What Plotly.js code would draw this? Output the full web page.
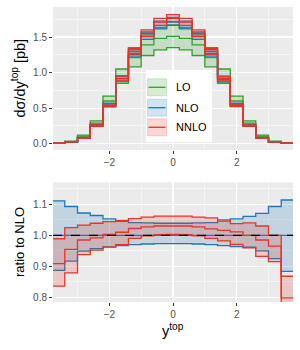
<!DOCTYPE html>
<html>
<head>
<meta charset="utf-8">
<script src="https://cdn.plot.ly/plotly-3.0.1.min.js"></script>
<style>html,body{margin:0;padding:0;background:#fff;}#plot{width:300px;height:350px;}</style>
</head>
<body>
<div id="plot"></div>
<script>
// ---- data (bin centres, width 0.4) ----
const binCenters = [-3.6,-3.2,-2.8,-2.4,-2.0,-1.6,-1.2,-0.8,-0.4,0.0,0.4,0.8,1.2,1.6,2.0,2.4,2.8,3.2,3.6];
const binWidth = 0.4;
// top panel: dsigma/dy [pb]
const loLow  = [0.009,0.027,0.094,0.26,0.535,0.85,1.08,1.24,1.32,1.35,1.32,1.24,1.08,0.85,0.535,0.26,0.094,0.027,0.009];
const loMid  = [0.011,0.030,0.105,0.29,0.60,0.95,1.21,1.39,1.48,1.51,1.48,1.39,1.21,0.95,0.60,0.29,0.105,0.030,0.011];
const loHigh = [0.013,0.034,0.12,0.32,0.67,1.05,1.35,1.54,1.63,1.67,1.63,1.54,1.35,1.05,0.67,0.32,0.12,0.034,0.013];
const nloCentral = [0.008,0.025,0.080,0.255,0.54,0.91,1.27,1.51,1.66,1.71,1.66,1.51,1.27,0.90,0.54,0.255,0.080,0.025,0.008];
// bottom panel: ratio to NLO
const nloRatioUp   = [1.111,1.093,1.072,1.064,1.053,1.045,1.041,1.040,1.039,1.039,1.039,1.040,1.041,1.046,1.053,1.061,1.071,1.093,1.114];
const nloRatioLow  = [0.887,0.917,0.949,0.957,0.963,0.967,0.970,0.972,0.973,0.973,0.973,0.972,0.970,0.967,0.964,0.962,0.950,0.925,0.884];
const nnloRatioUp  = [0.989,1.025,1.033,1.039,1.044,1.048,1.054,1.059,1.062,1.062,1.062,1.059,1.056,1.050,1.038,1.040,1.030,1.000,0.868];
const nnloRatioMid = [0.909,0.955,0.985,0.992,1.003,1.010,1.022,1.027,1.030,1.030,1.030,1.027,1.021,1.016,1.011,1.000,0.985,0.965,0.798];
const nnloRatioLow = [0.836,0.879,0.938,0.952,0.962,0.970,0.990,0.998,1.002,1.003,1.002,0.998,0.990,0.982,0.971,0.960,0.932,0.915,0.740];
const legendLabels = ['LO','NLO','NNLO'];

// ---- styles ----
const colGreen = '#33a02c', colBlue = '#1f78b4', colRed = '#e5352a';
const fillGreen = 'rgba(51,160,44,0.2)', fillBlue = 'rgba(31,120,180,0.2)', fillRed = 'rgba(229,53,42,0.2)';
const LW = 1.3;

// step helpers
const edges = binCenters.map(c => c - binWidth/2).concat([binCenters[binCenters.length-1] + binWidth/2]);
const stepY = v => v.concat([v[v.length-1]]);
const times = (a, b) => a.map((v,i) => v*b[i]);
const ones = nloCentral.map(v => v/v);

function band(low, mid, high, col, fill, xa, ya) {
  return [
    {x: edges, y: stepY(low), xaxis: xa, yaxis: ya, type:'scatter', mode:'lines', line:{shape:'hv', color:col, width:LW}, hoverinfo:'skip'},
    {x: edges, y: stepY(high), xaxis: xa, yaxis: ya, type:'scatter', mode:'lines', fill:'tonexty', fillcolor:fill, line:{shape:'hv', color:col, width:LW}, hoverinfo:'skip'},
    {x: edges, y: stepY(mid), xaxis: xa, yaxis: ya, type:'scatter', mode:'lines', line:{shape:'hv', color:col, width:LW}, hoverinfo:'skip'}
  ];
}

const nloLowAbs = times(nloRatioLow, nloCentral);
const nloUpAbs  = times(nloRatioUp, nloCentral);
const nnloLowAbs = times(nnloRatioLow, nloCentral);
const nnloMidAbs = times(nnloRatioMid, nloCentral);
const nnloUpAbs  = times(nnloRatioUp, nloCentral);

const traces = [].concat(
  band(loLow, loMid, loHigh, colGreen, fillGreen, 'x', 'y'),
  band(nloLowAbs, nloCentral, nloUpAbs, colBlue, fillBlue, 'x', 'y'),
  band(nnloLowAbs, nnloMidAbs, nnloUpAbs, colRed, fillRed, 'x', 'y'),
  band(nloRatioLow, ones, nloRatioUp, colBlue, fillBlue, 'x2', 'y2'),
  band(nnloRatioLow, nnloRatioMid, nnloRatioUp, colRed, fillRed, 'x2', 'y2')
);

// pixel -> paper helpers (plot area: x 53..293, y 7..302)
const L = 53, R = 7, T = 7, B = 48, W = 300, H = 350;
const pw = W - L - R, ph = H - T - B;
const fx = px => (px - L) / pw;
const fy = py => (H - B - py) / ph;
const FONT = 'Liberation Sans, Arial, sans-serif';

const axisCommon = {
  showline:false, zeroline:false, ticks:'outside', ticklen:3, tickwidth:1, tickcolor:'#333333',
  tickfont:{family:FONT, size:10, color:'#4d4d4d'},
  showgrid:true, gridcolor:'#ffffff', gridwidth:1.1
};

const shapes = [
  {type:'line', xref:'x2 domain', yref:'y2', x0:0, x1:1, y0:1, y1:1, line:{color:'#000000', width:1.3, dash:'dash'}, layer:'above'},
  // legend box
  {type:'rect', xref:'paper', yref:'paper', x0:fx(146), x1:fx(212), y0:fy(142), y1:fy(70), fillcolor:'#ffffff', line:{width:0}, layer:'above'}
];
const annotations = [];
const legCols = [[colGreen, fillGreen],[colBlue, fillBlue],[colRed, fillRed]];
const rowCenters = [87.3, 107.7, 127.3];
legendLabels.forEach((lab, i) => {
  const yc = rowCenters[i];
  shapes.push({type:'rect', xref:'paper', yref:'paper', x0:fx(147.5), x1:fx(166.5), y0:fy(yc+8.5), y1:fy(yc-8.5),
    fillcolor:legCols[i][1], line:{color:legCols[i][1], width:1}, layer:'above'});
  shapes.push({type:'line', xref:'paper', yref:'paper', x0:fx(148.5), x1:fx(165.5), y0:fy(yc), y1:fy(yc),
    line:{color:legCols[i][0], width:LW}, layer:'above'});
  annotations.push({xref:'paper', yref:'paper', x:fx(174), y:fy(yc), xanchor:'left', yanchor:'middle', showarrow:false,
    text:lab, font:{family:FONT, size:11, color:'#000000'}});
});
annotations.push({xref:'paper', yref:'paper', x:fx(19), y:fy(78.5), xanchor:'center', yanchor:'middle', textangle:-90, showarrow:false,
  text:'dσ/dy<sup>top</sup> [pb]', font:{family:FONT, size:14.5, color:'#000000'}});
annotations.push({xref:'paper', yref:'paper', x:fx(19), y:fy(242), xanchor:'center', yanchor:'middle', textangle:-90, showarrow:false,
  text:'ratio to NLO', font:{family:FONT, size:13, color:'#000000'}});
annotations.push({xref:'paper', yref:'paper', x:fx(173), y:fy(330), xanchor:'center', yanchor:'middle', showarrow:false,
  text:'y<sup>top</sup>', font:{family:FONT, size:14.5, color:'#000000'}});

const layout = {
  width: W, height: H,
  margin:{l:L, r:R, t:T, b:B, pad:0},
  paper_bgcolor:'#ffffff', plot_bgcolor:'#ebebeb',
  showlegend:false,
  xaxis: Object.assign({}, axisCommon, {domain:[0,1], anchor:'y', range:[-3.77,3.77], tick0:0, dtick:2,
    minor:{dtick:1, tick0:0, showgrid:true, gridcolor:'#ffffff', gridwidth:0.5, ticks:''}}),
  yaxis: Object.assign({}, axisCommon, {domain:[fy(150), 1], anchor:'x', range:[-0.089,1.922], tick0:0, dtick:0.5, tickformat:'.1f',
    minor:{dtick:0.25, tick0:0, showgrid:true, gridcolor:'#ffffff', gridwidth:0.5, ticks:''}}),
  xaxis2: Object.assign({}, axisCommon, {domain:[0,1], anchor:'y2', range:[-3.77,3.77], tick0:0, dtick:2,
    minor:{dtick:1, tick0:0, showgrid:true, gridcolor:'#ffffff', gridwidth:0.5, ticks:''}}),
  yaxis2: Object.assign({}, axisCommon, {domain:[0, fy(182.3)], anchor:'x2', range:[0.785,1.171], tick0:0.8, dtick:0.1, tickformat:'.1f',
    minor:{dtick:0.05, tick0:0.8, showgrid:true, gridcolor:'#ffffff', gridwidth:0.5, ticks:''}}),
  shapes: shapes,
  annotations: annotations
};

Plotly.newPlot('plot', traces, layout, {displayModeBar:false, staticPlot:true});
</script>
</body>
</html>
